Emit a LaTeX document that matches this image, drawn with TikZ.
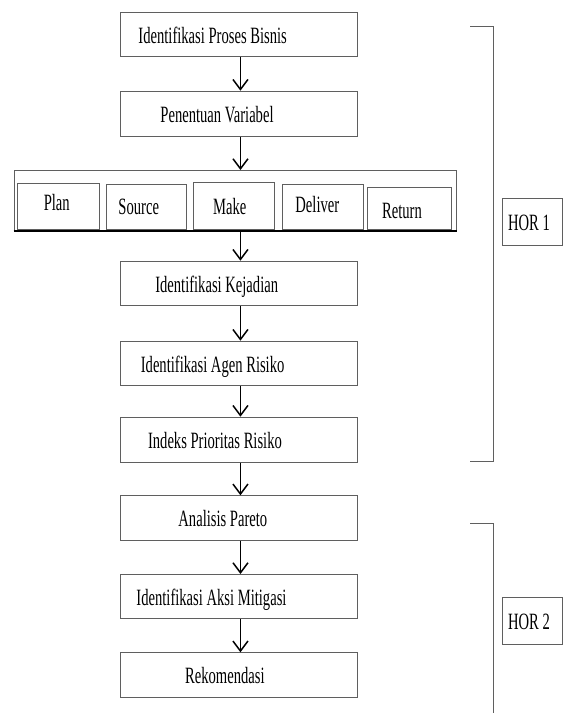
\documentclass[tikz,border=0pt]{standalone}
\usepackage{fontspec}
\setmainfont{Liberation Serif}
\usetikzlibrary{arrows.meta}
\newcommand{\bt}[3]{\makebox[#1pt][l]{\hspace*{#2pt}\scalebox{1}[1.6]{#3}}}
\definecolor{boxgray}{RGB}{95,95,95}
\tikzset{
  box/.style={draw=boxgray, line width=0.9pt, inner sep=0pt, anchor=north west,
    text height=18pt, text depth=0pt, font=\fontsize{14.6pt}{16pt}\selectfont},
  flow/.style={line width=1.5pt, -{Straight Barb[length=10pt,width=15pt]}},
  brk/.style={draw=boxgray, line width=1pt}
}
\begin{document}
\begin{tikzpicture}[x=1pt, y=-1pt]
\useasboundingbox (0,0) rectangle (564,713);
% main column
\node[box, minimum width=237pt, minimum height=43.4pt] (b1) at (120,12.3) {\bt{237}{18}{Identifikasi Proses Bisnis}};
\node[box, minimum width=237pt, minimum height=45pt] (b2) at (120,90.7) {\bt{237}{40}{Penentuan Variabel}};
% stage container
\node[box, minimum width=442.3pt, minimum height=59.7pt] (stage) at (13.7,170) {};
\node[box, minimum width=82pt, minimum height=45.7pt, text height=8pt] (plan) at (17.3,183.3) {\bt{82}{26}{Plan}};
\node[box, minimum width=80.3pt, minimum height=45pt, text height=15pt] (source) at (105.7,184) {\bt{80.3}{12.3}{Source}};
\node[box, minimum width=81.6pt, minimum height=47.3pt, text height=17pt] (make) at (192.7,181.7) {\bt{81.6}{20}{Make}};
\node[box, minimum width=81.6pt, minimum height=44.7pt, text height=10pt] (deliver) at (281.7,184.3) {\bt{81.6}{13.3}{Deliver}};
\node[box, minimum width=83.7pt, minimum height=41.7pt, text height=19.4pt] (return) at (367.3,187.3) {\bt{83.7}{14.4}{Return}};
\draw[line width=1.8pt] (stage.south west) -- (stage.south east);
% lower column
\node[box, minimum width=237pt, minimum height=44.6pt] (b3) at (120,260.7) {\bt{237}{34.8}{Identifikasi Kejadian}};
\node[box, minimum width=237pt, minimum height=44.3pt] (b4) at (120,340.7) {\bt{237}{20.4}{Identifikasi Agen Risiko}};
\node[box, minimum width=237pt, minimum height=45pt] (b5) at (120,416.7) {\bt{237}{27.6}{Indeks Prioritas Risiko}};
\node[box, minimum width=237pt, minimum height=44.4pt] (b6) at (120,495.3) {\bt{237}{58}{Analisis Pareto}};
\node[box, minimum width=237pt, minimum height=44pt] (b7) at (120,574) {\bt{237}{16}{Identifikasi Aksi Mitigasi}};
\node[box, minimum width=237pt, minimum height=44.4pt] (b8) at (120,652.3) {\bt{237}{64.7}{Rekomendasi}};
% HOR labels
\node[box, minimum width=60pt, minimum height=47pt, text height=17pt] (hor1) at (502,198) {\bt{60}{5.7}{HOR 1}};
\node[box, minimum width=60pt, minimum height=47pt, text height=17pt] (hor2) at (502,597) {\bt{60}{5.7}{HOR 2}};
% arrows
\draw[flow] ([xshift=1.5pt]b1.south) -- ([xshift=1.5pt]b2.north);
\draw[flow] ([xshift=1.5pt]b2.south) -- ([xshift=1.5pt]b2.south |- stage.north);
\draw[flow] ([xshift=1.5pt]b3.north |- stage.south) -- ([xshift=1.5pt]b3.north);
\draw[flow] ([xshift=1.5pt]b3.south) -- ([xshift=1.5pt]b4.north);
\draw[flow] ([xshift=1.5pt]b4.south) -- ([xshift=1.5pt]b5.north);
\draw[flow] ([xshift=1.5pt]b5.south) -- ([xshift=1.5pt]b6.north);
\draw[flow] ([xshift=1.5pt]b6.south) -- ([xshift=1.5pt]b7.north);
\draw[flow] ([xshift=1.5pt]b7.south) -- ([xshift=1.5pt]b8.north);
% brackets
\coordinate (k1a) at (470,26.7);
\coordinate (k1b) at (493,26.7);
\coordinate (k1c) at (493,461);
\coordinate (k1d) at (470,461);
\draw[brk] (k1a) -- (k1b) -- (k1c) -- (k1d);
\coordinate (k2a) at (470,523.3);
\coordinate (k2b) at (493,523.3);
\coordinate (k2c) at (493,713);
\draw[brk] (k2a) -- (k2b) -- (k2c);
\end{tikzpicture}
\end{document}
